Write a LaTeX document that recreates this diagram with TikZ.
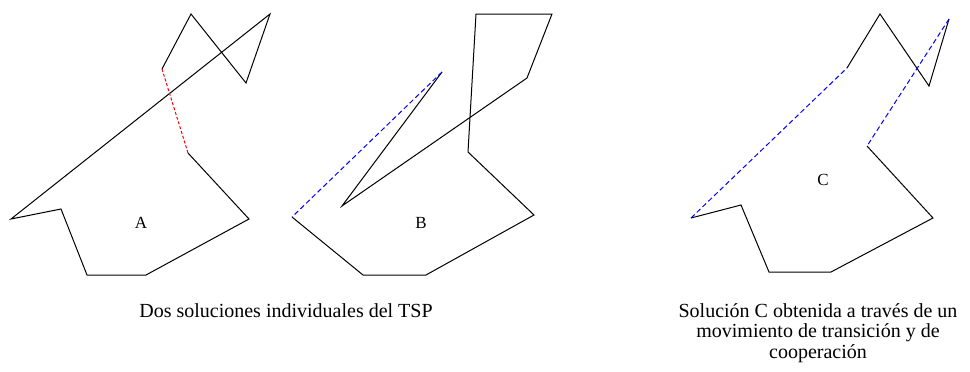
\documentclass[tikz,border=0pt]{standalone}
\usepackage{fontspec}
\setmainfont{Liberation Serif}
\begin{document}
\begin{tikzpicture}[x=1pt,y=-1pt,
  edge/.style={line width=1pt, line join=miter},
  redcut/.style={red, line width=1pt, dash pattern=on 3pt off 2pt},
  bluecut/.style={blue, line width=1pt, dash pattern=on 5pt off 3pt},
  lbl/.style={font=\fontsize{17}{20}\selectfont, inner sep=0pt},
  capt/.style={font=\fontsize{20}{20.5}\selectfont, align=center, inner sep=0pt}]
\useasboundingbox (0,0) rectangle (970,372);
% Shape A
\coordinate (a1) at (11,219);
\coordinate (a2) at (61,209);
\coordinate (a3) at (87,275);
\coordinate (a4) at (146,275);
\coordinate (a5) at (249,219);
\coordinate (a6) at (188,153);
\coordinate (a7) at (162,69);
\coordinate (a8) at (191,14);
\coordinate (a9) at (246,83);
\coordinate (a10) at (270,14);
\draw[edge] (a6) -- (a5) -- (a4) -- (a3) -- (a2) -- (a1) -- (a10) -- (a9) -- (a8) -- (a7);
\draw[redcut] (a6) -- (a7);
\node[lbl] (la) at (141,223) {A};
% Shape B
\coordinate (b1) at (292,217);
\coordinate (b2) at (363,275);
\coordinate (b3) at (426,275);
\coordinate (b4) at (534,215);
\coordinate (b5) at (468,152);
\coordinate (b6) at (476,14);
\coordinate (b7) at (552,14);
\coordinate (b8) at (527,78);
\coordinate (b9) at (342,206);
\coordinate (b10) at (442,72);
\draw[edge] (b1) -- (b2) -- (b3) -- (b4) -- (b5) -- (b6) -- (b7) -- (b8) -- (b9) -- (b10);
\draw[bluecut] (b10) -- (b1);
\node[lbl] (lb) at (421,223) {B};
% Shape C
\coordinate (c1) at (691,218);
\coordinate (c2) at (741,205);
\coordinate (c3) at (769,272);
\coordinate (c4) at (831,272);
\coordinate (c5) at (933,218);
\coordinate (c6) at (867,146);
\coordinate (c7) at (949,19);
\coordinate (c8) at (929,86);
\coordinate (c9) at (880,14);
\coordinate (c10) at (847,68);
\draw[edge] (c6) -- (c5) -- (c4) -- (c3) -- (c2) -- (c1);
\draw[bluecut] (c1) -- (c10);
\draw[edge] (c10) -- (c9) -- (c8) -- (c7);
\draw[bluecut] (c7) -- (c6);
\node[lbl] (lc) at (823,180) {C};
% Captions
\node[capt, anchor=base] (cap1) at (286,317) {Dos soluciones individuales del TSP};
\node[capt, anchor=base] (cap2) at (818,358) {Solución C obtenida a través de un\\movimiento de transición y de\\cooperación};
\end{tikzpicture}
\end{document}
